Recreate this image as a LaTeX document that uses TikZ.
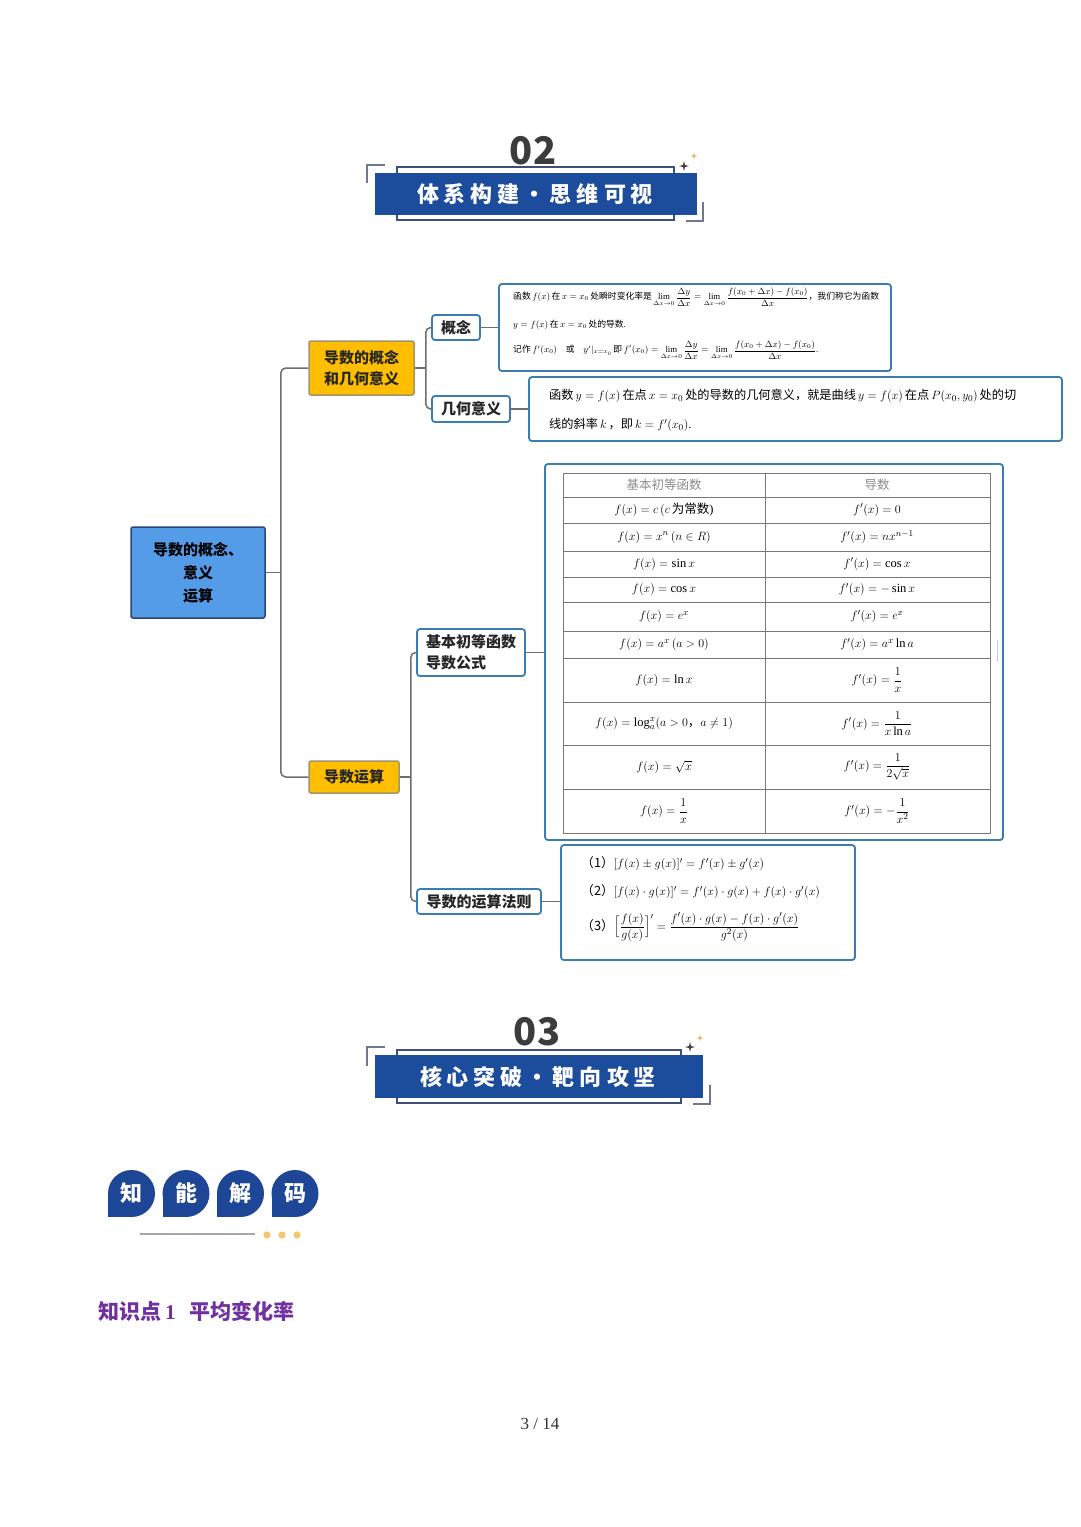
\documentclass[tikz,border=0pt]{standalone}
\usepackage{amsmath}
\usepackage{fontspec}
\setmainfont{Liberation Serif}
\newfontfamily\cjk{Noto Sans CJK SC}
\usetikzlibrary{calc}
\definecolor{bannerc}{RGB}{28,76,156}
\definecolor{outlc}{RGB}{60,80,120}
\definecolor{brkc}{RGB}{110,120,140}
\definecolor{numc}{RGB}{60,60,60}
\definecolor{rootc}{RGB}{84,156,232}
\definecolor{rootb}{RGB}{40,70,120}
\definecolor{goldc}{RGB}{255,190,0}
\definecolor{goldb}{RGB}{160,150,110}
\definecolor{childb}{RGB}{60,125,175}
\definecolor{connc}{RGB}{110,110,110}
\definecolor{tablc}{RGB}{120,120,120}
\definecolor{badgec}{RGB}{30,70,150}
\definecolor{purplec}{RGB}{112,48,160}
\definecolor{dotc}{RGB}{240,200,110}
\definecolor{sparkgold}{RGB}{215,175,80}
\definecolor{headgray}{RGB}{140,140,140}
\newcommand\fsz[2]{\fontsize{#1pt}{#2pt}\selectfont}
\newcommand\zh[1]{{\cjk #1}}
\newcommand\mysparkle[4]{\fill[#4,shift={(#1,#2)}] (0,-#3) -- ({0.2*#3},{-0.2*#3}) -- (#3,0) -- ({0.2*#3},{0.2*#3}) -- (0,#3) -- ({-0.2*#3},{0.2*#3}) -- (-#3,0) -- ({-0.2*#3},{-0.2*#3}) -- cycle;}
\tikzset{
  conn/.style={draw=connc, line width=1.5pt},
  connr/.style={draw=connc, line width=1.5pt, rounded corners=5pt},
  rootbox/.style={fill=rootc, draw=rootb, line width=1.5pt, rounded corners=2pt, align=center, font=\cjk\bfseries\fsz{15}{23}, inner sep=0pt},
  goldbox/.style={fill=goldc, draw=goldb, line width=1.5pt, rounded corners=2pt, align=center, font=\cjk\bfseries\fsz{15}{21}, inner sep=0pt, text=black!85},
  childbox/.style={fill=white, draw=childb, line width=1.8pt, rounded corners=3pt, font=\cjk\bfseries\fsz{15}{21}, inner sep=0pt, text=black!85},
  contentbox/.style={fill=white, draw=childb, line width=1.8pt, rounded corners=3pt, inner sep=0pt},
  txt/.style={inner sep=0pt, anchor=west},
  cell/.style={inner sep=0pt, font=\fsz{12.5}{15}},
  tabline/.style={draw=tablc, line width=1pt},
  outl/.style={draw=outlc, line width=1.2pt},
  brk/.style={draw=brkc, line width=1.5pt},
  bantext/.style={text=white, font=\cjk\bfseries\fsz{22}{22}, inner sep=0pt},
  numtext/.style={text=numc, font=\cjk\bfseries\fsz{38}{38}, inner sep=0pt},
  badgetext/.style={text=white, font=\cjk\bfseries\fsz{22}{22}, inner sep=0pt},
}
\begin{document}
\begin{tikzpicture}[x=1pt,y=-1pt]
\useasboundingbox[fill=white] (0,0) rectangle (1080,1527);

% ===== banner 02 =====
\draw[outl] (397,167) rectangle (674,220);
\fill[bannerc] (375,173) rectangle (697,215);
\draw[brk] (385,165) -- (367,165) -- (367,183);
\draw[brk] (686,221) -- (703,221) -- (703,202);
\mysparkle{684}{166}{5}{black!75}
\mysparkle{694}{156}{3.5}{sparkgold}
\node[numtext] (n02) at (533,151) {02};
\node[bantext] (t02) at (535,194) {体\hspace{5pt}系\hspace{5pt}构\hspace{5pt}建\makebox[30pt]{·}思\hspace{5pt}维\hspace{5pt}可\hspace{5pt}视};

% ===== mind map nodes =====
\node[rootbox, minimum width=134, minimum height=91] (root) at (198,572.5) {导数的概念、\\意义\\运算};
\node[goldbox, minimum width=105, minimum height=54] (A) at (361.5,368) {导数的概念\\和几何意义};
\node[goldbox, minimum width=90, minimum height=32] (B) at (354,777) {导数运算};
\node[childbox, minimum width=48, minimum height=25] (gainian) at (456,327.5) {概念};
\node[childbox, minimum width=78, minimum height=26] (jihe) at (471,409) {几何意义};
\node[childbox, minimum width=108, minimum height=47, align=left] (jichu) at (471,652.5) {基本初等函数\\导数公式};
\node[childbox, minimum width=124, minimum height=25] (fazhe) at (479,901.5) {导数的运算法则};

\node[contentbox, minimum width=392, minimum height=87] (box1) at (695,327.5) {};
\node[contentbox, minimum width=533, minimum height=64] (box2) at (795.5,409) {};
\node[contentbox, minimum width=458, minimum height=376] (tab) at (774,652) {};
\node[contentbox, minimum width=294, minimum height=115] (rules) at (708,902.5) {};

% ===== connectors =====
\draw[conn] (root.east) -- ++(15,0);
\draw[connr] ($(root.east)+(15,0)$) |- (A.west);
\draw[connr] ($(root.east)+(15,0)$) |- (B.west);
\draw[conn] (A.east) -- ++(11,0);
\draw[connr] ($(A.east)+(11,0)$) |- (gainian.west);
\draw[connr] ($(A.east)+(11,0)$) |- (jihe.west);
\draw[conn] (B.east) -- ++(11,0);
\draw[connr] ($(B.east)+(11,0)$) |- (jichu.west);
\draw[connr] ($(B.east)+(11,0)$) |- (fazhe.west);
\draw[conn] (gainian.east) -- (gainian.east -| box1.west);
\draw[conn] (jihe.east) -- (jihe.east -| box2.west);
\draw[conn] (jichu.east) -- (jichu.east -| tab.west);
\draw[conn] (fazhe.east) -- (fazhe.east -| rules.west);

% ===== box1 text =====
\begin{scope}[every node/.style={txt, font=\fsz{8.8}{10}}]
\node (b1l1) at (513,297) {\zh{函数}\,$f(x)$\,\zh{在}\,$x=x_0$\,\zh{处瞬时变化率是}\,$\displaystyle\lim_{\Delta x\to0}\frac{\Delta y}{\Delta x}=\lim_{\Delta x\to0}\frac{f(x_0+\Delta x)-f(x_0)}{\Delta x}$\zh{，我们称它为函数}};
\node (b1l2) at (513,325) {$y=f(x)$\,\zh{在}\,$x=x_0$\,\zh{处的导数}.};
\node (b1l3) at (513,350) {\zh{记作}\,$f'(x_0)$\quad\zh{或}\quad$y'|_{x=x_0}$\,\zh{即}\,$\displaystyle f'(x_0)=\lim_{\Delta x\to0}\frac{\Delta y}{\Delta x}=\lim_{\Delta x\to0}\frac{f(x_0+\Delta x)-f(x_0)}{\Delta x}$.};
\end{scope}

% ===== box2 text =====
\begin{scope}[every node/.style={txt, font=\fsz{12.2}{14}}]
\node (b2l1) at (549,396) {\zh{函数}\,$y=f(x)$\,\zh{在点}\,$x=x_0$\,\zh{处的导数的几何意义，就是曲线}\,$y=f(x)$\,\zh{在点}\,$P(x_0,y_0)$\,\zh{处的切}};
\node (b2l2) at (549,425) {\zh{线的斜率}\,$k$\,\zh{，即}\,$k=f'(x_0)$.};
\end{scope}

% ===== table =====
\draw[tabline] (563,473) rectangle (990,833);
\draw[tabline] (765,473) -- (765,833);
\foreach \yy in {497,523,551,577,602,631,658,702,745,789}{\draw[tabline] (563,\yy) -- (990,\yy);}
\draw[draw=black!20, line width=1pt] (997,640) -- (997,662);
\node[cell, text=headgray] (h1) at (664,485) {\zh{基本初等函数}};
\node[cell, text=headgray] (h2) at (877,485) {\zh{导数}};
\node[cell] (l1) at (664,510) {$f(x)=c\,(c$\,\zh{为常数})};
\node[cell] (r1) at (877,510) {$f'(x)=0$};
\node[cell] (l2) at (664,537) {$f(x)=x^n\,(n\in R)$};
\node[cell] (r2) at (877,537) {$f'(x)=nx^{n-1}$};
\node[cell] (l3) at (664,564) {$f(x)=\sin x$};
\node[cell] (r3) at (877,564) {$f'(x)=\cos x$};
\node[cell] (l4) at (664,589.5) {$f(x)=\cos x$};
\node[cell] (r4) at (877,589.5) {$f'(x)=-\sin x$};
\node[cell] (l5) at (664,616.5) {$f(x)=e^x$};
\node[cell] (r5) at (877,616.5) {$f'(x)=e^x$};
\node[cell] (l6) at (664,644.5) {$f(x)=a^x\,(a>0)$};
\node[cell] (r6) at (877,644.5) {$f'(x)=a^x\ln a$};
\node[cell] (l7) at (664,680) {$f(x)=\ln x$};
\node[cell] (r7) at (877,680) {$f'(x)=\dfrac{1}{x}$};
\node[cell] (l8) at (664,723.5) {$f(x)=\log_a^x(a>0$\zh{，}$a\neq1)$};
\node[cell] (r8) at (877,723.5) {$f'(x)=\dfrac{1}{x\ln a}$};
\node[cell] (l9) at (664,767) {$f(x)=\sqrt{x}$};
\node[cell] (r9) at (877,767) {$f'(x)=\dfrac{1}{2\sqrt{x}}$};
\node[cell] (l10) at (664,811) {$f(x)=\dfrac{1}{x}$};
\node[cell] (r10) at (877,811) {$f'(x)=-\dfrac{1}{x^2}$};

% ===== rules text =====
\begin{scope}[every node/.style={txt, font=\fsz{12.8}{15}}]
\node (ru1) at (581,864) {\zh{（1）}$[f(x)\pm g(x)]'=f'(x)\pm g'(x)$};
\node (ru2) at (581,892) {\zh{（2）}$[f(x)\cdot g(x)]'=f'(x)\cdot g(x)+f(x)\cdot g'(x)$};
\node (ru3) at (581,927) {\zh{（3）}$\Big[\dfrac{f(x)}{g(x)}\Big]'=\dfrac{f'(x)\cdot g(x)-f(x)\cdot g'(x)}{g^2(x)}$};
\end{scope}

% ===== banner 03 =====
\draw[outl] (397,1050) rectangle (681,1103);
\fill[bannerc] (375,1055) rectangle (703,1098);
\draw[brk] (385,1047) -- (367,1047) -- (367,1066);
\draw[brk] (693,1104) -- (710,1104) -- (710,1085);
\mysparkle{690}{1047}{5}{black!75}
\mysparkle{700}{1038}{3.5}{sparkgold}
\node[numtext] (n03) at (537,1032) {03};
\node[bantext] (t03) at (538,1077) {核\hspace{5pt}心\hspace{5pt}突\hspace{5pt}破\makebox[30pt]{·}靶\hspace{5pt}向\hspace{5pt}攻\hspace{5pt}坚};

% ===== badges =====
\foreach \cx/\ch/\nm in {131.5/知/ba, 186/能/bb, 240.5/解/bc, 295/码/bd}{
  \fill[badgec] (\cx,1193.5) circle[radius=23.5pt];
  \fill[badgec] (\cx-23.5,1193.5) rectangle (\cx,1217);
  \node[badgetext] (\nm) at (\cx,1193.5) {\ch};
}
\draw[draw=black!35, line width=2pt] (140,1234) -- (255,1234);
\foreach \dx in {267,282,297}{\fill[dotc] (\dx,1235) circle[radius=3.6pt];}

% ===== heading and page number =====
\node[txt, text=purplec, font=\fsz{21}{21}] (kp) at (98,1311) {\cjk\bfseries 知识点\hspace{4pt}{\rmfamily\bfseries 1}\hspace{14pt}平均变化率};
\node[inner sep=0pt, text=black!80, font=\fsz{17}{17}] (pg) at (540,1424) {3 / 14};
\end{tikzpicture}
\end{document}
